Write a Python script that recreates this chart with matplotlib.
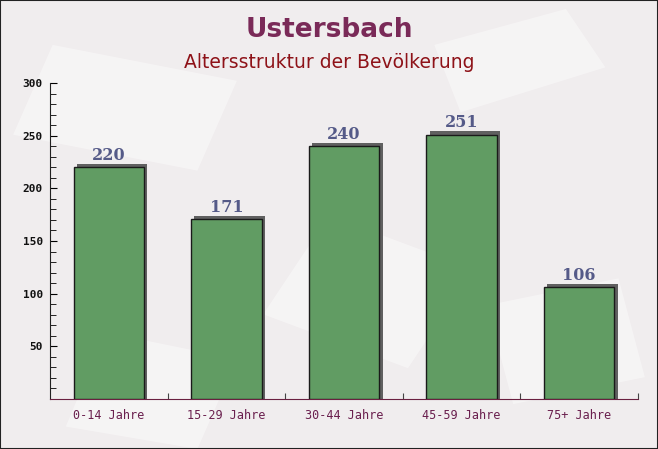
"""Age structure bar chart for Ustersbach."""

import matplotlib.pyplot as plt
from matplotlib.patches import Rectangle, Polygon

categories = ['0-14 Jahre', '15-29 Jahre', '30-44 Jahre', '45-59 Jahre', '75+ Jahre']
values = [220, 171, 240, 251, 106]


def main():
    """Main program called during execution."""

    # initialize figure
    fig = plt.figure(figsize=(6.58, 4.49), dpi=100)
    fig.patch.set_facecolor('#f0edee')

    # faint background shapes (letters), kept behind the axes
    for corners in (
            [(0.02, 0.70), (0.30, 0.62), (0.36, 0.82), (0.08, 0.90)],
            [(0.40, 0.30), (0.62, 0.18), (0.72, 0.40), (0.50, 0.52)],
            [(0.70, 0.75), (0.92, 0.85), (0.86, 0.98), (0.66, 0.90)],
            [(0.10, 0.05), (0.30, 0.00), (0.36, 0.20), (0.16, 0.26)],
            [(0.78, 0.10), (0.98, 0.16), (0.94, 0.38), (0.74, 0.32)]):
        fig.add_artist(Polygon(corners, closed=True, transform=fig.transFigure,
                               facecolor='white', alpha=0.4, linewidth=0,
                               zorder=-5))
    fig.add_artist(Rectangle((0, 0), 1, 1, transform=fig.transFigure,
                             fill=False, edgecolor='#222222', linewidth=1.5))
    ax = fig.add_axes([50/658, 50/449, 588/658, 316/449])
    ax.set_facecolor('none')

    # plot shadows then bars
    xs = range(len(values))
    ax.bar([x + 0.028 for x in xs], [v + 3 for v in values], width=0.6,
           color='#606060', zorder=2)
    ax.bar(xs, values, width=0.6, color='#619c63', edgecolor='#1a1a1a',
           linewidth=1, zorder=3)

    # value labels
    for x, v in zip(xs, values):
        ax.text(x, v + 3, str(v), ha='center', va='bottom', fontsize=11.5,
                fontweight='bold', family='DejaVu Serif', color='#555a88',
                zorder=4)

    # set axes properties
    ax.set_xlim(-0.5, len(values) - 0.5)
    ax.set_ylim(0, 300)
    ax.set_yticks(range(50, 301, 50))
    ax.set_yticks(range(0, 301, 10), minor=True)
    ax.set_xticks([x + 0.5 for x in xs])
    ax.set_xticks(list(xs), minor=True)
    ax.set_xticklabels([])
    ax.set_xticklabels(categories, minor=True)
    ax.tick_params(axis='y', which='both', direction='in', labelsize=8,
                   labelcolor='#111111', pad=5)
    ax.tick_params(axis='y', which='major', length=5)
    ax.tick_params(axis='y', which='minor', length=4)
    ax.tick_params(axis='x', which='major', direction='in', length=4,
                   color='#444444')
    ax.tick_params(axis='x', which='minor', length=0, labelsize=8.5,
                   labelcolor='#6a1f4e', pad=7)
    for label in ax.get_yticklabels():
        label.set_family('DejaVu Sans Mono')
        label.set_fontweight('bold')
    for label in ax.get_xticklabels(minor=True):
        label.set_family('DejaVu Sans Mono')
    for side in ('top', 'right'):
        ax.spines[side].set_visible(False)
    ax.spines['bottom'].set_color('#6a2040')
    ax.spines['left'].set_color('#222222')

    # titles
    fig.text(0.5, 1 - 30/449, 'Ustersbach', ha='center', va='center',
             fontsize=19, fontweight='bold', color='#7a2a58')
    fig.text(0.5, 1 - 63/449, 'Altersstruktur der Bevölkerung', ha='center',
             va='center', fontsize=13.5, color='#8e1218')

    # save figure
    fig.savefig('out.png', dpi=100, facecolor=fig.get_facecolor())


if __name__ == '__main__':
    main()
